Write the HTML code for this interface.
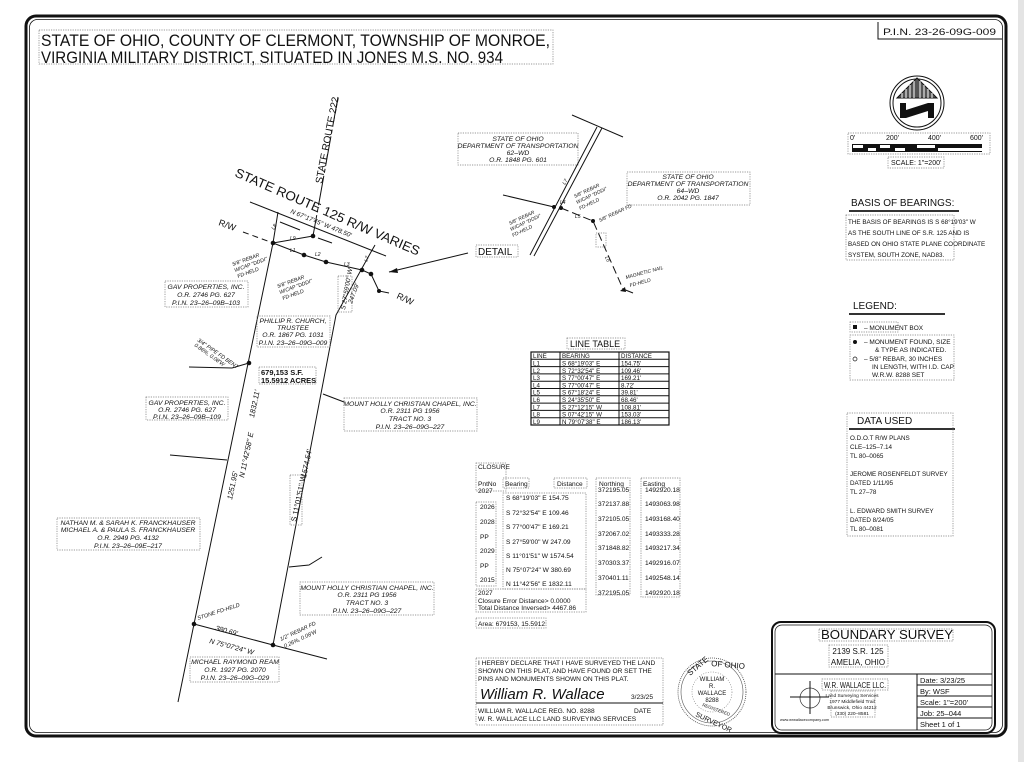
<!DOCTYPE html>
<html><head><meta charset="utf-8"><style>
html,body{margin:0;padding:0;background:#fff;}
svg{display:block;}
text{font-family:"Liberation Sans",sans-serif;fill:#111;}
.i{font-style:italic;}
.db{fill:none;stroke:#777;stroke-width:0.7;stroke-dasharray:1.2,1.2;}
.ln{stroke:#111;stroke-width:1;fill:none;}
</style></head><body>
<svg width="1024" height="762" viewBox="0 0 1024 762" xmlns="http://www.w3.org/2000/svg">
<rect x="0" y="0" width="1024" height="762" fill="#fff"/>
<rect x="1018" y="0" width="6" height="762" fill="#e4e4e4"/>
<!-- outer border -->
<rect x="26" y="16" width="980" height="720" rx="10" fill="none" stroke="#111" stroke-width="3"/>
<rect x="29.5" y="19.5" width="973" height="713" rx="8" fill="none" stroke="#111" stroke-width="0.8"/>

<!-- title -->
<text x="41" y="46" font-size="17" fill="#222" textLength="509" lengthAdjust="spacingAndGlyphs">STATE OF OHIO, COUNTY OF CLERMONT, TOWNSHIP OF MONROE,</text>
<text x="41" y="63" font-size="17" fill="#222" textLength="462" lengthAdjust="spacingAndGlyphs">VIRGINIA MILITARY DISTRICT, SITUATED IN JONES M.S. NO. 934</text>
<rect class="db" x="39" y="30" width="514" height="34"/>

<!-- PIN -->
<path d="M878 22 V39 H1002" class="ln"/>
<text x="883" y="35" font-size="9.5" textLength="113" lengthAdjust="spacingAndGlyphs">P.I.N. 23-26-09G-009</text>

<!-- north arrow -->
<circle cx="917" cy="103" r="27" class="ln" stroke-width="1.2"/>
<circle cx="917" cy="103" r="24" class="ln"/>
<polygon points="897,98 917,78 937,98" fill="#555" stroke="#111"/>
<path d="M902 93 V98 M906 89 V98 M910 85 V98 M914 81 V98 M920 81 V98 M924 85 V98 M928 89 V98 M932 93 V98" stroke="#fff" stroke-width="1"/>
<polygon points="900,103 906,103 906,110 928,103 934,103 934,118 928,118 928,111 906,118 900,118" fill="#111"/>

<!-- scale bar -->
<rect x="852" y="144" width="130" height="8" fill="#111"/>
<rect x="853" y="145" width="10" height="3" fill="#fff"/><rect x="868" y="148" width="8" height="3" fill="#fff"/>
<rect x="880" y="145" width="10" height="3" fill="#fff"/><rect x="895" y="148" width="10" height="3" fill="#fff"/>
<rect x="917" y="145" width="18" height="3" fill="#fff"/><rect x="938" y="148" width="44" height="3" fill="#fff"/>
<text x="850" y="140" font-size="7">0'</text><text x="886" y="140" font-size="7">200'</text>
<text x="928" y="140" font-size="7">400'</text><text x="970" y="140" font-size="7">600'</text>
<rect class="db" x="848" y="133" width="142" height="21"/>
<text x="891" y="165" font-size="7">SCALE: 1"=200'</text>
<rect class="db" x="888" y="157" width="56" height="11"/>

<!-- basis of bearings -->
<text x="851" y="206" font-size="10">BASIS OF BEARINGS:</text>
<rect x="849" y="210" width="110" height="2" fill="#333"/>
<g font-size="6.3">
<text x="848" y="224">THE BASIS OF BEARINGS IS S 68°19'03" W</text>
<text x="848" y="235">AS THE SOUTH LINE OF S.R. 125 AND IS</text>
<text x="848" y="246">BASED ON OHIO STATE PLANE COORDINATE</text>
<text x="848" y="257">SYSTEM, SOUTH ZONE, NAD83.</text>
</g>
<rect class="db" x="846" y="215" width="108" height="45"/>

<!-- legend -->
<text x="853" y="309" font-size="10">LEGEND:</text>
<rect x="849" y="313" width="96" height="2" fill="#333"/>
<g font-size="6.5">
<rect x="853" y="325" width="4" height="4" fill="#111"/><text x="864" y="330">–  MONUMENT BOX</text>
<circle cx="855" cy="342" r="2" fill="#111"/><text x="864" y="344">–  MONUMENT FOUND, SIZE</text>
<text x="875" y="352">&amp; TYPE AS INDICATED.</text>
<circle cx="855" cy="359" r="2" fill="none" stroke="#111" stroke-width="0.7"/><text x="864" y="361">–  5/8" REBAR, 30 INCHES</text>
<text x="872" y="369">IN LENGTH, WITH I.D. CAP</text>
<text x="872" y="377">W.R.W. 8288 SET</text>
</g>
<rect class="db" x="850" y="322" width="48" height="10"/>
<rect class="db" x="850" y="335" width="104" height="45"/>

<!-- data used -->
<text x="857" y="424" font-size="10">DATA USED</text>
<rect x="849" y="428" width="106" height="2" fill="#333"/>
<g font-size="6.3">
<text x="850" y="440">O.D.O.T R/W PLANS</text><text x="850" y="449">CLE–125–7.14</text><text x="850" y="458">TL 80–0065</text>
<text x="850" y="476">JEROME ROSENFELDT SURVEY</text><text x="850" y="485">DATED 1/11/95</text><text x="850" y="494">TL 27–78</text>
<text x="850" y="513">L. EDWARD SMITH SURVEY</text><text x="850" y="522">DATED 8/24/05</text><text x="850" y="531">TL 80–0081</text>
</g>
<rect class="db" x="847" y="413" width="106" height="123"/>

<!-- ROADS -->
<path d="M338 97 L313 236" class="ln" stroke-width="1.2" stroke-dasharray="30,3,4,3"/>
<text transform="translate(322,184) rotate(-79)" font-size="10">STATE ROUTE 222</text>
<text transform="translate(234,176) rotate(23.5)" font-size="13" textLength="200" lengthAdjust="spacingAndGlyphs">STATE ROUTE 125 R/W VARIES</text>
<path d="M250 202 L386 256" class="ln"/>
<path d="M243 232 L273 243" class="ln" stroke-dasharray="6,4"/>
<path d="M280 222 L300 230 M318 238 L332 243" class="ln" stroke-width="0.7"/>
<text transform="translate(218,225) rotate(20)" font-size="9">R/W</text>
<path d="M273 243 L304 255 L326 262 L362 270 L371 274 L379 291 L389 293" class="ln" stroke-width="1.2"/>
<path d="M273 243 L313 236 M273 243 L278 212" class="ln"/>
<text transform="translate(396,298) rotate(25)" font-size="9">R/W</text>
<text transform="translate(290,213) rotate(22)" font-size="6.5" class="i">N 67°17'45" W    478.50'</text>
<g fill="#111"><circle cx="273" cy="243" r="2.3"/><circle cx="313" cy="236" r="2.3"/><circle cx="304" cy="255" r="2.3"/><circle cx="326" cy="262" r="2.3"/><circle cx="362" cy="270" r="2.3"/><circle cx="371" cy="274" r="2.3"/><circle cx="379" cy="291" r="2"/></g>
<g font-size="5" class="i">
<text transform="translate(274,230) rotate(-60)">L8</text><text x="290" y="240">L9</text><text x="290" y="252">L1</text>
<text x="315" y="256">L2</text><text x="344" y="266">L3</text><text transform="translate(367,262) rotate(-70)">L7</text>
</g>
<g font-size="5.2" class="i">
<text transform="translate(233,266) rotate(-20)">5/8" REBAR</text>
<text transform="translate(235,272) rotate(-20)">W/CAP "DDDI"</text>
<text transform="translate(238,278) rotate(-20)">FD-HELD</text>
<text transform="translate(278,288) rotate(-20)">5/8" REBAR</text>
<text transform="translate(280,294) rotate(-20)">W/CAP "DDDI"</text>
<text transform="translate(283,300) rotate(-20)">FD-HELD</text>
</g>
<!-- detail arrow -->
<path d="M468 253 L389 272" class="ln"/>
<polygon points="389,272 397,268 398,273" fill="#111"/>
<text x="478" y="255" font-size="10">DETAIL</text>
<rect class="db" x="476" y="245" width="42" height="12"/>

<!-- BOUNDARY -->
<path d="M273 243 L194 624 L178 702" class="ln" stroke-width="1.2"/>
<path d="M375 245 L371 252 L336 315 L273 645" class="ln" stroke-width="1.2"/>
<path d="M194 624 L273 645 L327 659" class="ln" stroke-width="1.2"/>
<path d="M189 367 L232 368 L249 363 M170 455 L227 460 M323 394 L344 402 M289 567 L309 565 L322 557" class="ln"/>
<g fill="#111"><circle cx="249" cy="363" r="2.3"/><circle cx="194" cy="624" r="2.3"/><circle cx="273" cy="645" r="2.3"/></g>
<text transform="translate(345,310) rotate(-80)" font-size="6.5" class="i">S 27°59'00" W</text>
<text transform="translate(352,304) rotate(-70)" font-size="6.5" class="i">247.09'</text>
<rect class="db" x="338" y="276" width="14" height="36"/>
<text transform="translate(232,500) rotate(-78)" font-size="7.5" class="i">1251.95'</text>
<text transform="translate(244,478) rotate(-78)" font-size="7.5" class="i">N 11°42'58" E</text>
<text transform="translate(254,418) rotate(-78)" font-size="7.5" class="i">1832.11'</text>
<text transform="translate(306,478) rotate(-78)" font-size="7.5" class="i">1574.54'</text>
<text transform="translate(296,522) rotate(-78)" font-size="7.5">S 11°01'51" W</text>
<rect class="db" x="290" y="475" width="12" height="50"/>
<text transform="translate(215,630) rotate(15)" font-size="7" class="i">380.69'</text>
<text transform="translate(209,643) rotate(15)" font-size="7" class="i">N 75°07'24" W</text>
<text transform="translate(198,620) rotate(-18)" font-size="5.5" class="i">STONE FD-HELD</text>
<text transform="translate(281,641) rotate(-25)" font-size="5.5" class="i">1/2" REBAR FD</text>
<text transform="translate(285,648) rotate(-25)" font-size="5.5" class="i">0.26%, 0.08'W</text>
<text transform="translate(197,341) rotate(35)" font-size="5.5" class="i">3/4" PIPE FD BENT</text>
<text transform="translate(194,346) rotate(35)" font-size="5.5" class="i">0.86%, 0.08'W</text>

<!-- owner labels -->
<g font-size="6.8" class="i" text-anchor="middle">
<text x="206" y="289">GAV PROPERTIES, INC.</text><text x="206" y="297">O.R. 2746 PG. 627</text><text x="206" y="305">P.I.N. 23–26–09B–103</text>
<text x="293" y="323">PHILLIP R. CHURCH,</text><text x="293" y="330">TRUSTEE</text><text x="293" y="337">O.R. 1867 PG. 1031</text><text x="293" y="345">P.I.N. 23–26–09G–009</text>
<text x="187" y="405">GAV PROPERTIES, INC.</text><text x="187" y="412">O.R. 2746 PG. 627</text><text x="187" y="419">P.I.N. 23–26–09B–109</text>
<text x="410" y="406">MOUNT HOLLY CHRISTIAN CHAPEL, INC.</text><text x="410" y="413">O.R. 2311 PG 1956</text><text x="410" y="421">TRACT NO. 3</text><text x="410" y="429">P.I.N. 23–26–09G–227</text>
<text x="128" y="525">NATHAN M. &amp; SARAH K. FRANCKHAUSER</text><text x="128" y="532">MICHAEL A. &amp; PAULA S. FRANCKHAUSER</text><text x="128" y="540">O.R. 2949 PG. 4132</text><text x="128" y="548">P.I.N. 23–26–09E–217</text>
<text x="367" y="590">MOUNT HOLLY CHRISTIAN CHAPEL, INC.</text><text x="367" y="597">O.R. 2311 PG 1956</text><text x="367" y="605">TRACT NO. 3</text><text x="367" y="613">P.I.N. 23–26–09G–227</text>
<text x="235" y="664">MICHAEL RAYMOND REAM</text><text x="235" y="672">O.R. 1927 PG. 2070</text><text x="235" y="680">P.I.N. 23–26–09G–029</text>
<text x="518" y="141">STATE OF OHIO</text><text x="518" y="148">DEPARTMENT OF TRANSPORTATION</text><text x="518" y="155">62–WD</text><text x="518" y="162">O.R. 1848 PG. 601</text>
<text x="688" y="179">STATE OF OHIO</text><text x="688" y="186">DEPARTMENT OF TRANSPORTATION</text><text x="688" y="193">64–WD</text><text x="688" y="200">O.R. 2042 PG. 1847</text>
</g>
<g class="db">
<rect x="165" y="281" width="83" height="26"/><rect x="257" y="316" width="73" height="31"/>
<rect x="146" y="397" width="82" height="23"/><rect x="344" y="398" width="133" height="33"/>
<rect x="57" y="518" width="143" height="32"/><rect x="300" y="582" width="134" height="33"/>
<rect x="190" y="657" width="89" height="25"/><rect x="458" y="133" width="120" height="32"/>
<rect x="627" y="172" width="123" height="33"/>
</g>
<text x="261" y="375" font-size="7.5" font-weight="bold" font-family="Liberation Serif">679,153 S.F.</text>
<text x="261" y="383" font-size="7.5" font-weight="bold" font-family="Liberation Serif">15.5912 ACRES</text>
<rect class="db" x="259" y="367" width="57" height="17"/>

<!-- DETAIL drawing -->
<path d="M597 127 L530 255 M602 128 L534 256 M572 115 L623 137 M503 195 L554 207" class="ln"/>
<path d="M561 208 L593 221 L623 289" class="ln" stroke-dasharray="8,4"/>
<path d="M623 289 L633 293" class="ln"/>
<rect class="db" x="596" y="233" width="10" height="14"/>
<g fill="#111"><circle cx="554" cy="207" r="2"/><circle cx="561" cy="208" r="2"/><circle cx="593" cy="221" r="2"/><polygon points="620,291 625,287 626,292"/></g>
<g font-size="5" class="i">
<text transform="translate(565,185) rotate(-60)">L7</text><text x="560" y="204">L4</text><text x="575" y="218">L5</text>
<text transform="translate(605,257) rotate(70)">L6</text>
<text transform="translate(510,225) rotate(-25)">5/8" REBAR</text><text transform="translate(511,231) rotate(-25)">W/CAP "DDDI"</text><text transform="translate(513,237) rotate(-25)">FD-HELD</text>
<text transform="translate(575,198) rotate(-25)">5/8" REBAR</text><text transform="translate(577,204) rotate(-25)">W/CAP "DDDI"</text><text transform="translate(580,210) rotate(-25)">FD-HELD</text>
<text transform="translate(600,222) rotate(-25)">5/8" REBAR FD</text>
<text transform="translate(626,279) rotate(-15)">MAGNETIC NAIL</text><text transform="translate(630,287) rotate(-15)">FD-HELD</text>
</g>

<!-- LINE TABLE -->
<text x="570" y="347" font-size="9">LINE TABLE</text>
<rect class="db" x="567" y="338" width="58" height="11"/>
<rect x="531" y="352" width="138" height="73" fill="none" stroke="#111" stroke-width="1.2"/>
<path d="M560 352 V425 M619 352 V425" class="ln"/>
<path d="M531 359.3 H669 M531 366.6 H669 M531 373.9 H669 M531 381.2 H669 M531 388.5 H669 M531 395.8 H669 M531 403.1 H669 M531 410.4 H669 M531 417.7 H669" class="ln" stroke-width="0.8"/>
<g font-size="6.2">
<text x="533" y="358">LINE</text><text x="562" y="358">BEARING</text><text x="621" y="358">DISTANCE</text>
<text x="533" y="365.5">L1</text><text x="562" y="365.5">S 68°19'03"  E</text><text x="621" y="365.5">154.75'</text>
<text x="533" y="372.8">L2</text><text x="562" y="372.8">S 72°32'54"  E</text><text x="621" y="372.8">109.46'</text>
<text x="533" y="380.1">L3</text><text x="562" y="380.1">S 77°00'47"  E</text><text x="621" y="380.1">169.21'</text>
<text x="533" y="387.4">L4</text><text x="562" y="387.4">S 77°00'47"  E</text><text x="621" y="387.4">8.72'</text>
<text x="533" y="394.7">L5</text><text x="562" y="394.7">S 67°18'24"  E</text><text x="621" y="394.7">39.81'</text>
<text x="533" y="402">L6</text><text x="562" y="402">S 24°35'50"  E</text><text x="621" y="402">68.46'</text>
<text x="533" y="409.3">L7</text><text x="562" y="409.3">S 27°12'15"  W</text><text x="621" y="409.3">108.81'</text>
<text x="533" y="416.6">L8</text><text x="562" y="416.6">S 07°42'15"  W</text><text x="621" y="416.6">153.03'</text>
<text x="533" y="423.9">L9</text><text x="562" y="423.9">N 79°07'38"  E</text><text x="621" y="423.9">186.13'</text>
</g>

<!-- CLOSURE -->
<g font-size="6.6">
<text x="478" y="469">CLOSURE</text>
<text x="478" y="486">PntNo</text><text x="505" y="486">Bearing</text><text x="557" y="486">Distance</text><text x="599" y="486">Northing</text><text x="643" y="486">Easting</text>
<text x="478" y="493">2027</text>
<text x="506" y="500">S 68°19'03" E 154.75</text>
<text x="480" y="509">2026</text><text x="506" y="515">S 72°32'54" E 109.46</text>
<text x="480" y="524">2028</text><text x="506" y="529">S 77°00'47" E 169.21</text>
<text x="480" y="539">PP</text><text x="506" y="544">S 27°59'00" W 247.09</text>
<text x="480" y="553">2029</text><text x="506" y="558">S 11°01'51" W 1574.54</text>
<text x="480" y="568">PP</text><text x="506" y="572">N 75°07'24" W 380.69</text>
<text x="480" y="582">2015</text><text x="506" y="586">N 11°42'56" E 1832.11</text>
<text x="478" y="595">2027</text>
<text x="478" y="603">Closure Error Distance&gt; 0.0000</text>
<text x="478" y="610">Total Distance Inversed&gt; 4467.86</text>
<text x="478" y="626">Area: 679153, 15.5912</text>
<text x="598" y="492">372195.05</text><text x="645" y="492">1492920.18</text>
<text x="598" y="506">372137.88</text><text x="645" y="506">1493063.98</text>
<text x="598" y="521">372105.05</text><text x="645" y="521">1493168.40</text>
<text x="598" y="536">372067.02</text><text x="645" y="536">1493333.28</text>
<text x="598" y="550">371848.82</text><text x="645" y="550">1493217.34</text>
<text x="598" y="565">370303.37</text><text x="645" y="565">1492916.07</text>
<text x="598" y="580">370401.11</text><text x="645" y="580">1492548.14</text>
<text x="598" y="595">372195.05</text><text x="645" y="595">1492920.18</text>
</g>
<g class="db">
<rect x="476" y="463" width="30" height="28"/><rect x="503" y="478" width="26" height="10"/>
<rect x="554" y="478" width="33" height="10"/><rect x="596" y="478" width="34" height="117"/>
<rect x="641" y="478" width="39" height="119"/><rect x="503" y="493" width="83" height="96"/>
<rect x="476" y="502" width="20" height="84"/><rect x="476" y="589" width="110" height="23"/>
<rect x="476" y="618" width="70" height="10"/>
</g>

<!-- signature block -->
<g font-size="6.6">
<text x="478" y="665">I HEREBY DECLARE THAT I HAVE SURVEYED THE LAND</text>
<text x="478" y="673">SHOWN ON THIS PLAT, AND HAVE FOUND OR SET THE</text>
<text x="478" y="681">PINS AND MONUMENTS SHOWN ON THIS PLAT.</text>
<text x="631" y="699">3/23/25</text>
<text x="478" y="713">WILLIAM R. WALLACE      REG. NO. 8288</text>
<text x="634" y="713">DATE</text>
<text x="478" y="721">W. R. WALLACE LLC LAND SURVEYING SERVICES</text>
</g>
<text x="480" y="699" font-size="15" font-family="Liberation Serif" font-style="italic">William R. Wallace</text>
<path d="M476 703 H663" class="ln"/>
<rect class="db" x="476" y="658" width="187" height="67"/>
<!-- seal -->
<circle cx="712" cy="692" r="34" fill="none" stroke="#444" stroke-width="0.8" stroke-dasharray="1,1"/>
<circle cx="712" cy="692" r="31" fill="none" stroke="#555" stroke-width="0.6"/>
<circle cx="712" cy="692" r="20" fill="none" stroke="#777" stroke-width="0.6" stroke-dasharray="1,1.5"/>
<g font-size="6" text-anchor="middle">
<text x="712" y="681">WILLIAM</text><text x="712" y="688">R.</text><text x="712" y="695">WALLACE</text><text x="712" y="702">8288</text>
</g>
<text transform="translate(690,676) rotate(-40)" font-size="8">STATE</text>
<text transform="translate(711,666) rotate(5)" font-size="8">OF OHIO</text>
<text transform="translate(695,716) rotate(25)" font-size="7">SURVEYOR</text>
<text transform="translate(702,706) rotate(20)" font-size="4.5">REGISTERED</text>

<!-- title block -->
<rect x="772" y="622" width="223" height="111" rx="9" fill="none" stroke="#111" stroke-width="2"/>
<rect x="775" y="625" width="217" height="105" rx="7" fill="none" stroke="#111" stroke-width="0.7"/>
<text x="887" y="639" font-size="13" text-anchor="middle" textLength="132" lengthAdjust="spacingAndGlyphs">BOUNDARY SURVEY</text>
<rect class="db" x="819" y="629" width="134" height="12"/>
<text x="858" y="654" font-size="8" text-anchor="middle">2139 S.R. 125</text>
<text x="858" y="665" font-size="8" text-anchor="middle">AMELIA, OHIO</text>
<rect class="db" x="829" y="645" width="59" height="22"/>
<path d="M775 674 H992 M917 674 V730 M917 685 H992 M917 696 H992 M917 707 H992 M917 718 H992" class="ln" stroke-width="1"/>
<g font-size="7.5"><text x="920" y="683">Date:   3/23/25</text><text x="920" y="694">By:   WSF</text><text x="920" y="705">Scale:   1"=200'</text><text x="920" y="716">Job:   25–044</text><text x="920" y="727">Sheet  1  of 1</text></g>
<text x="824" y="688" font-size="8" textLength="62" lengthAdjust="spacingAndGlyphs">W.R. WALLACE LLC.</text>
<rect class="db" x="822" y="679" width="66" height="11"/>
<circle cx="810" cy="698" r="10" fill="none" stroke="#333" stroke-width="0.7"/>
<path d="M810 681 V714 M790 697 H829" class="ln" stroke-width="0.8"/>
<g font-size="4.8" text-anchor="middle"><text x="852" y="697">Land Surveying Services</text><text x="852" y="703">1977 Middlefield Trail</text><text x="852" y="709">Brunswick, Ohio 44212</text><text x="852" y="715">(330) 220–8581</text></g>
<text x="780" y="721" font-size="3.8">www.wrwallacecompany.com</text>
<rect class="db" x="831" y="691" width="44" height="26"/>
</svg>
</body></html>
